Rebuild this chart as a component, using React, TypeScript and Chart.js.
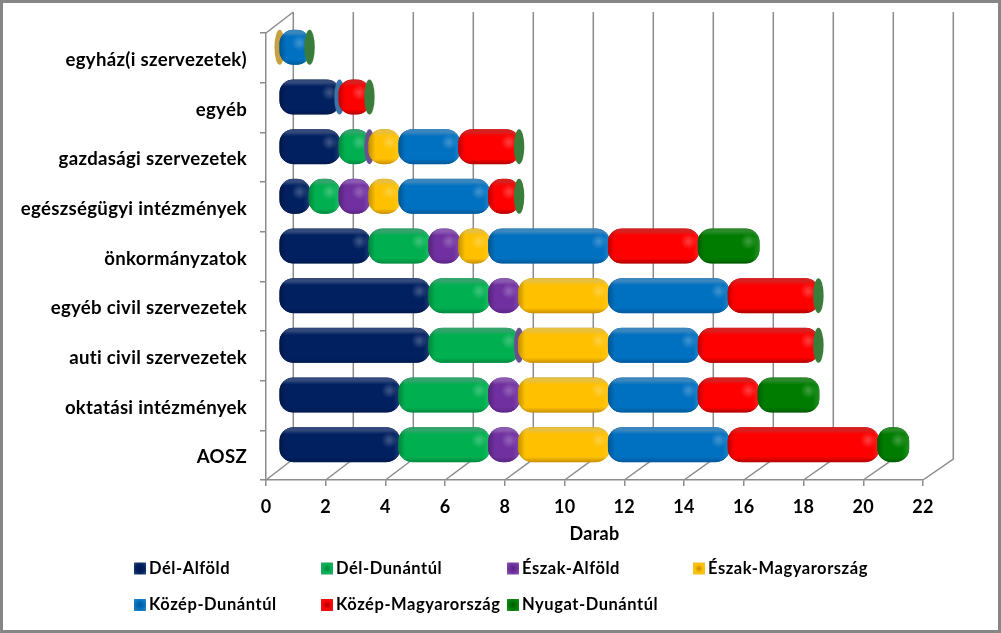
import React, { useEffect, useRef } from "react";
import { Chart, registerables } from "chart.js";

Chart.register(...registerables);

const categories = [
  "egyház(i szervezetek)",
  "egyéb",
  "gazdasági szervezetek",
  "egészségügyi intézmények",
  "önkormányzatok",
  "egyéb civil szervezetek",
  "auti civil szervezetek",
  "oktatási intézmények",
  "AOSZ",
];

const delAlfold = [null, 2, 2, 1, 3, 5, 5, 4, 4];
const delDunantul = [null, null, 1, 1, 2, 2, 3, 3, 3];
const eszakAlfold = [null, null, 0, 1, 1, 1, 0, 1, 1];
const eszakMagyarorszag = [0, null, 1, 1, 1, 3, 3, 3, 3];
const kozepDunantul = [1, 0, 2, 3, 4, 4, 3, 3, 4];
const kozepMagyarorszag = [null, 1, 2, 1, 3, 3, 4, 2, 5];
const nyugatDunantul = [0, 0, 0, 0, 2, 0, 0, 2, 1];

const seriesNames = ["Dél-Alföld", "Dél-Dunántúl", "Észak-Alföld", "Észak-Magyarország", "Közép-Dunántúl", "Közép-Magyarország", "Nyugat-Dunántúl"];
const seriesValues = [delAlfold, delDunantul, eszakAlfold, eszakMagyarorszag, kozepDunantul, kozepMagyarorszag, nyugatDunantul];
const mainColors = ["#002060", "#00B050", "#7030A0", "#FFC000", "#0070C0", "#FF0000", "#007D00"];
const darkColors = ["#001A50", "#008A40", "#5A2685", "#C89000", "#005A9C", "#B00000", "#005C00"];
const edgeColors = ["#33497C", "#33A46C", "#8A5AB0", "#E8C040", "#3A86BE", "#D82020", "#2A8A2A"];
const sliverColors = ["#2A4478", "#3A8A60", "#6B5090", "#C8A040", "#3D74A8", "#B84040", "#3A7D3A"];
const legendCols = [134, 321, 507, 693];
const legendRows = [568.5, 605];
const gridColor = "#8C8C8C";
const fontFamily = "Lato, Carlito, sans-serif";
const depthX = 27.3;
const depthY = 21;
const stretch = 660 / 657 - 1;

function drawBar(ctx: CanvasRenderingContext2D, x0: number, x1: number, yc: number, h: number, i: number) {
  const top = yc - h / 2;
  const w = x1 - x0;
  if (w < 1) {
    ctx.fillStyle = sliverColors[i];
    ctx.beginPath();
    ctx.ellipse(x0, yc, 5.2, h / 2, 0, 0, Math.PI * 2);
    ctx.fill();
    return;
  }
  const bx = x0 - 1;
  const bw = w + 2;
  const radius = Math.min(14, bw / 2);
  ctx.save();
  ctx.beginPath();
  ctx.roundRect(bx, top, bw, h, radius);
  ctx.fillStyle = darkColors[i];
  ctx.fill();
  ctx.clip();
  const vg = ctx.createLinearGradient(0, top, 0, top + h);
  vg.addColorStop(0, edgeColors[i]);
  vg.addColorStop(0.09, edgeColors[i]);
  vg.addColorStop(0.2, mainColors[i]);
  vg.addColorStop(0.85, mainColors[i]);
  vg.addColorStop(1, darkColors[i]);
  ctx.fillStyle = vg;
  ctx.fillRect(bx, top, bw, h);
  const hg = ctx.createLinearGradient(bx, 0, bx + bw, 0);
  const e = Math.min(0.45, 7 / bw);
  hg.addColorStop(0, "rgba(0,0,0,0.25)");
  hg.addColorStop(e, "rgba(0,0,0,0)");
  hg.addColorStop(1 - e, "rgba(255,255,255,0)");
  hg.addColorStop(1, "rgba(255,255,255,0.14)");
  ctx.fillStyle = hg;
  ctx.fillRect(bx, top, bw, h);
  const hx = bx + bw - 11;
  const hy = top + 13;
  const rg = ctx.createRadialGradient(hx, hy, 1, hx, hy, 8);
  rg.addColorStop(0, "rgba(255,255,255,0.22)");
  rg.addColorStop(1, "rgba(255,255,255,0)");
  ctx.fillStyle = rg;
  ctx.fillRect(hx - 9, hy - 9, 18, 18);
  ctx.restore();
}

function drawSwatch(ctx: CanvasRenderingContext2D, x: number, yc: number, i: number) {
  const s = 12;
  const y = yc - s / 2;
  const cx = x + s / 2;
  const cy = yc;
  const rg = ctx.createRadialGradient(cx, cy, 0.5, cx, cy, s * 0.7);
  rg.addColorStop(0, darkColors[i]);
  rg.addColorStop(0.45, mainColors[i]);
  rg.addColorStop(1, edgeColors[i]);
  ctx.fillStyle = rg;
  ctx.fillRect(x, y, s, s);
}

const chrome = {
  id: "chrome",
  beforeDraw(chart: any) {
    const { ctx, scales } = chart;
    const xs = scales.x;
    const left = xs.left;
    const top = chart.chartArea.top;
    const bottom = chart.chartArea.bottom;
    ctx.save();
    ctx.fillStyle = "#FFFFFF";
    ctx.fillRect(0, 0, chart.width, chart.height);
    ctx.strokeStyle = "#868686";
    ctx.lineWidth = 3;
    ctx.strokeRect(1.5, 1.5, chart.width - 3, chart.height - 3);
    ctx.strokeStyle = gridColor;
    ctx.lineWidth = 1.5;
    ctx.beginPath();
    ctx.moveTo(left, top);
    ctx.lineTo(left + depthX, top - depthY);
    for (const t of xs.ticks) {
      const px = xs.getPixelForValue(t.value);
      const bx = px + depthX + (px - left) * stretch;
      ctx.moveTo(bx, top - depthY);
      ctx.lineTo(bx, bottom - depthY);
      ctx.lineTo(px, bottom);
    }
    ctx.stroke();
    ctx.restore();
    (ctx as any).letterSpacing = "0.3px";
    (ctx as any).fontKerning = "normal";
  },
  beforeDatasetsDraw(chart: any) {
    const { ctx, scales } = chart;
    const left = scales.x.left;
    const shift = (px: number) => px + depthX / 2 + (px - left) * stretch * 0.5;
    chart.data.datasets.forEach((ds: any, i: number) => {
      const meta = chart.getDatasetMeta(i);
      meta.data.forEach((bar: any, index: number) => {
        if (ds.data[index] === null || ds.data[index] === undefined) return;
        const p = bar.getProps(["x", "y", "base", "height"], true);
        drawBar(ctx, shift(p.base), shift(p.x), p.y - depthY / 2, p.height, i);
      });
    });
    return false;
  },
  afterDraw(chart: any) {
    const { ctx } = chart;
    ctx.save();
    ctx.font = `bold 16.5px ${fontFamily}`;
    (ctx as any).letterSpacing = "0.55px";
    ctx.textBaseline = "middle";
    ctx.textAlign = "left";
    chart.data.datasets.forEach((ds: any, i: number) => {
      const col = i < 4 ? i : i - 4;
      const row = i < 4 ? 0 : 1;
      drawSwatch(ctx, legendCols[col], legendRows[row], i);
      ctx.fillStyle = "#000000";
      ctx.fillText(ds.label, legendCols[col] + 15, legendRows[row]);
    });
    ctx.restore();
  },
};

export default function App() {
  const ref = useRef<HTMLCanvasElement | null>(null);
  useEffect(() => {
    if (!ref.current) return;
    const chart = new Chart(ref.current, {
      type: "bar",
      data: {
        labels: categories,
        datasets: seriesNames.map((label, i) => ({
          label,
          data: seriesValues[i] as any,
          backgroundColor: mainColors[i],
          categoryPercentage: 1,
          barPercentage: 0.705,
        })),
      },
      plugins: [chrome as any],
      options: {
        indexAxis: "y",
        animation: false,
        responsive: false,
        layout: { autoPadding: false, padding: { top: 33, right: 78, bottom: 86, left: 0 } },
        plugins: { legend: { display: false }, tooltip: { enabled: false } },
        scales: {
          x: {
            type: "linear",
            stacked: true,
            min: 0,
            max: 22,
            afterFit: (s: any) => { s.height = 67; },
            title: { display: true, text: "Darab", color: "#000", font: { family: fontFamily, size: 18, weight: "bold" }, padding: { top: 0, bottom: 2 } },
            ticks: { stepSize: 2, maxRotation: 0, color: "#000", padding: 10, font: { family: fontFamily, size: 18, weight: "bold" } },
            grid: { drawOnChartArea: false, drawTicks: true, tickLength: 6, color: gridColor, lineWidth: 1.5 },
            border: { display: true, color: gridColor, width: 1.5 },
          },
          y: {
            type: "category",
            stacked: true,
            afterFit: (s: any) => { s.width = 266; },
            ticks: { color: "#000", padding: 13, labelOffset: 2, font: { family: fontFamily, size: 18.6, weight: "bold" } },
            grid: { drawOnChartArea: false, drawTicks: true, tickLength: 6, color: gridColor, lineWidth: 1.5, offset: true },
            border: { display: true, color: gridColor, width: 1.5 },
          },
        },
      },
    });
    return () => chart.destroy();
  }, []);
  return (
    <div style={{ position: "absolute", left: 0, top: 0, width: 1001, height: 633 }}>
      <canvas ref={ref} width={1001} height={633} style={{ display: "block" }} />
    </div>
  );
}
